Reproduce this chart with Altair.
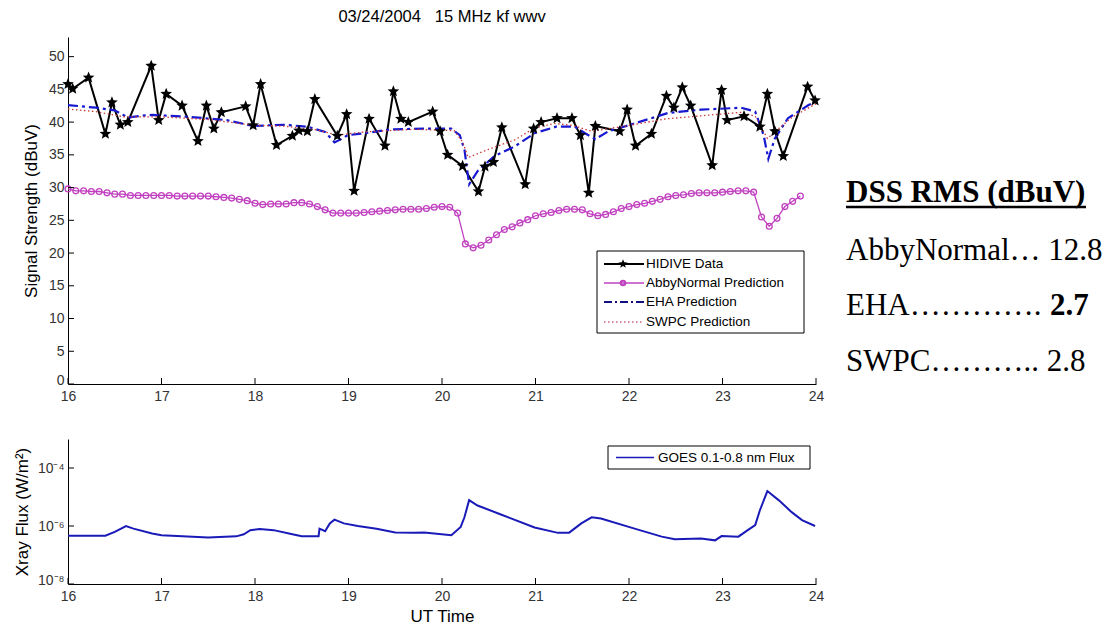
import altair as alt
import pandas as pd

# ---------------- data ----------------
hidive_t = [16.00, 16.05, 16.22, 16.40, 16.47, 16.56, 16.64, 16.89, 16.97, 17.05, 17.22, 17.39, 17.48,
            17.56, 17.64, 17.90, 17.98, 18.06, 18.23, 18.40, 18.47, 18.56, 18.64, 18.88, 18.98, 19.06,
            19.22, 19.39, 19.48, 19.56, 19.64, 19.90, 19.98, 20.06, 20.22, 20.39, 20.46, 20.55, 20.64,
            20.89, 20.98, 21.06, 21.23, 21.39, 21.48, 21.57, 21.64, 21.90, 21.98, 22.07, 22.24, 22.40,
            22.48, 22.57, 22.66, 22.89, 22.99, 23.05, 23.23, 23.40, 23.48, 23.56, 23.65, 23.91, 23.99]
hidive_v = [45.8, 45.1, 46.8, 38.2, 43.0, 39.6, 40.0, 48.6, 40.3, 44.3, 42.5, 37.1, 42.5,
            39.0, 41.5, 42.4, 39.5, 45.8, 36.5, 37.9, 38.7, 38.6, 43.5, 37.9, 41.2, 29.5,
            40.5, 36.4, 44.7, 40.5, 40.0, 41.6, 38.6, 35.0, 33.3, 29.4, 33.2, 33.9, 39.2,
            30.5, 39.0, 40.0, 40.6, 40.6, 38.0, 29.2, 39.4, 38.6, 41.9, 36.4, 38.2, 44.0,
            42.2, 45.3, 42.5, 33.4, 44.9, 40.3, 40.9, 39.3, 44.3, 38.6, 34.8, 45.4, 43.3]

abby_t = [16.000, 16.083, 16.167, 16.250, 16.333, 16.417, 16.500, 16.583, 16.667, 16.750, 16.833, 16.917,
          17.000, 17.083, 17.167, 17.250, 17.333, 17.417, 17.500, 17.583, 17.667, 17.750, 17.833, 17.917,
          18.000, 18.083, 18.167, 18.250, 18.333, 18.417, 18.500, 18.583, 18.667, 18.750, 18.833, 18.917,
          19.000, 19.083, 19.167, 19.250, 19.333, 19.417, 19.500, 19.583, 19.667, 19.750, 19.833, 19.917,
          20.000, 20.083, 20.167, 20.250, 20.333, 20.417, 20.500, 20.583, 20.667, 20.750, 20.833, 20.917,
          21.000, 21.083, 21.167, 21.250, 21.333, 21.417, 21.500, 21.583, 21.667, 21.750, 21.833, 21.917,
          22.000, 22.083, 22.167, 22.250, 22.333, 22.417, 22.500, 22.583, 22.667, 22.750, 22.833, 22.917,
          23.000, 23.083, 23.167, 23.250, 23.333, 23.417, 23.500, 23.583, 23.667, 23.750, 23.833]
abby_v = [29.8, 29.5, 29.5, 29.4, 29.4, 29.2, 29.0, 29.0, 28.8, 28.8, 28.8, 28.8,
          28.8, 28.8, 28.7, 28.7, 28.7, 28.7, 28.7, 28.6, 28.5, 28.4, 28.2, 28.0,
          27.6, 27.4, 27.5, 27.5, 27.5, 27.7, 27.7, 27.5, 27.1, 26.6, 26.1, 26.1,
          26.1, 26.1, 26.2, 26.3, 26.4, 26.5, 26.6, 26.7, 26.7, 26.7, 26.8, 27.0,
          27.1, 27.0, 26.1, 21.4, 20.8, 21.2, 22.0, 22.8, 23.6, 24.0, 24.6, 25.1,
          25.7, 26.0, 26.2, 26.5, 26.7, 26.7, 26.6, 26.0, 25.7, 25.9, 26.3, 26.8,
          27.1, 27.4, 27.6, 27.9, 28.2, 28.6, 28.8, 28.9, 29.1, 29.2, 29.2, 29.2,
          29.3, 29.4, 29.5, 29.5, 29.3, 25.5, 24.1, 25.3, 27.1, 27.9, 28.7]

eha_t = [16.00, 16.30, 16.50, 16.64, 16.80, 16.90, 17.30, 17.70, 17.98, 18.30, 18.56, 18.75, 18.85,
         18.92, 18.99, 19.17, 19.46, 19.81, 20.10, 20.19, 20.24, 20.29, 20.38, 20.56, 20.78, 20.99,
         21.22, 21.42, 21.53, 21.64, 21.78, 22.06, 22.42, 22.77, 23.20, 23.35, 23.44, 23.49, 23.56,
         23.70, 23.92, 24.00]
eha_v = [42.6, 42.2, 41.8, 40.7, 41.0, 41.1, 40.8, 40.3, 39.4, 39.6, 39.3, 38.5, 36.9,
         37.4, 38.0, 38.3, 38.9, 39.0, 39.0, 38.0, 35.8, 30.5, 32.5, 34.8, 36.3, 38.3,
         39.3, 39.3, 38.3, 37.4, 38.6, 39.8, 41.4, 41.9, 42.2, 41.6, 38.0, 34.4, 37.5,
         40.6, 42.6, 43.1]

swpc_t = [16.00, 16.30, 16.60, 17.00, 17.50, 18.00, 18.30, 18.67, 18.88, 19.17, 19.70, 20.13, 20.22,
          20.28, 20.49, 20.78, 20.99, 21.20, 21.40, 21.60, 22.00, 22.40, 22.80, 23.20, 23.35, 23.48,
          23.60, 23.75, 24.00]
swpc_v = [42.0, 41.6, 40.8, 40.8, 40.4, 39.5, 39.4, 38.8, 38.0, 38.5, 38.9, 38.7, 37.0,
          34.6, 35.8, 37.3, 39.1, 39.8, 39.5, 38.6, 39.5, 40.5, 41.0, 41.5, 40.9, 37.5,
          39.0, 40.8, 42.8]

goes_t = [16.00, 16.40, 16.50, 16.62, 16.70, 16.90, 17.00, 17.50, 17.80, 17.88, 17.95, 18.05, 18.20,
          18.40, 18.50, 18.68, 18.69, 18.75, 18.80, 18.85, 18.95, 19.10, 19.30, 19.50, 19.70, 19.81,
          20.10, 20.20, 20.24, 20.29, 20.38, 20.63, 20.99, 21.24, 21.36, 21.49, 21.60, 21.70, 22.06,
          22.35, 22.49, 22.77, 22.92, 22.99, 23.17, 23.27, 23.35, 23.40, 23.48, 23.60, 23.74, 23.85,
          23.99]
goes_v = [4.6e-7, 4.6e-7, 6.3e-7, 1.0e-6, 8.1e-7, 5.5e-7, 4.8e-7, 4.0e-7, 4.4e-7, 5.2e-7, 7.2e-7, 7.9e-7, 7.2e-7,
          5.2e-7, 4.4e-7, 4.4e-7, 8.1e-7, 6.6e-7, 1.23e-6, 1.66e-6, 1.23e-6, 1.0e-6, 8.1e-7, 6.0e-7, 5.8e-7, 6.0e-7,
          4.8e-7, 9.3e-7, 2.0e-6, 7.8e-6, 5.1e-6, 2.5e-6, 8.9e-7, 5.8e-7, 5.9e-7, 1.23e-6, 2.0e-6, 1.8e-6, 8.1e-7,
          4.3e-7, 3.5e-7, 3.7e-7, 3.2e-7, 4.5e-7, 4.3e-7, 7.2e-7, 1.07e-6, 3.5e-6, 1.6e-5, 7.8e-6, 3.0e-6, 1.6e-6,
          1.0e-6]

x_ticks = [16, 17, 18, 19, 20, 21, 22, 23, 24]
y_ticks = [0, 5, 10, 15, 20, 25, 30, 35, 40, 45, 50]
flux_ticks = [1e-8, 1e-6, 1e-4]

title_text = "03/24/2004\u00a0\u00a0\u00a015 MHz kf wwv"
legend_top = ["HIDIVE Data", "AbbyNormal Prediction", "EHA Prediction", "SWPC Prediction"]
legend_bottom = "GOES 0.1-0.8 nm Flux"
rms_header = "DSS RMS (dBuV)"
rms_rows = ["AbbyNormal\u2026 12.8", "EHA\u2026\u2026\u2026\u2026.", "SWPC\u2026\u2026\u2026.. 2.8"]
rms_bold = "2.7"

# ---------------- styling ----------------
W = 748
H1 = 347
H2 = 145
FONT = "Liberation Sans"
SERIF = "Liberation Serif"
BLACK = "#000000"
MAG = "#c040c0"
BLUE = "#1818d0"
RED = "#cc3a3a"
GBLUE = "#1a1ab8"
STAR = ("M0,-1 L0.26,-0.36 L0.951,-0.309 L0.42,0.137 L0.588,0.809 L0,0.44 "
        "L-0.588,0.809 L-0.42,0.137 L-0.951,-0.309 L-0.26,-0.36 Z")

df_hid = pd.DataFrame({"t": hidive_t, "v": hidive_v})
df_abby = pd.DataFrame({"t": abby_t, "v": abby_v})
df_eha = pd.DataFrame({"t": eha_t, "v": eha_v})
df_swpc = pd.DataFrame({"t": swpc_t, "v": swpc_v})
df_goes = pd.DataFrame({"t": goes_t, "f": goes_v})
df_xt = pd.DataFrame({"t": x_ticks})
df_yt = pd.DataFrame({"v": y_ticks})
df_ft = pd.DataFrame({"f": flux_ticks})
one = pd.DataFrame({"k": [0]})

xs = alt.Scale(domain=[16, 24], nice=False, zero=False)
ys = alt.Scale(domain=[0, 53], nice=False, zero=False)
fs = alt.Scale(type="log", domain=[1e-8, 1e-3], nice=False)

ax_common = dict(ticks=False, grid=False, domainColor=BLACK, domainWidth=1, labelFlush=False,
                 labelFont=FONT, labelFontSize=14, labelColor="#333333",
                 titleFont=FONT, titleFontSize=17, titleFontWeight="normal", titleColor=BLACK)

x_axis_top = alt.Axis(values=x_ticks, format="d", title=None, labelPadding=5, **ax_common)
x_axis_bot = alt.Axis(values=x_ticks, format="d", title="UT Time", titlePadding=5, labelPadding=5, **ax_common)
y_axis_top = alt.Axis(values=y_ticks, format="d", title="Signal Strength (dBuV)", titlePadding=8,
                      labelPadding=4,
                      labelBaseline={"condition": {"test": "datum.value == 0", "value": "alphabetic"},
                                     "value": "middle"},
                      **ax_common)
y_axis_bot = alt.Axis(values=flux_ticks, title="Xray Flux (W/m\u00b2)", titlePadding=6, labelPadding=4,
                      labelBaseline={"condition": {"test": "datum.value < 1e-7", "value": "alphabetic"},
                                     "value": "middle"},
                      labelExpr="datum.value < 1e-7 ? '10\u207b\u2078' : (datum.value < 1e-5 ? '10\u207b\u2076' : '10\u207b\u2074')",
                      **ax_common)

X = alt.X("t:Q", scale=xs, axis=x_axis_top)
Y = alt.Y("v:Q", scale=ys, axis=y_axis_top)

hid_line = alt.Chart(df_hid).mark_line(color=BLACK, strokeWidth=2).encode(x=X, y=Y)
hid_pts = alt.Chart(df_hid).mark_point(shape=STAR, filled=True, color=BLACK, size=150, opacity=1).encode(x=X, y=Y)
abby_line = alt.Chart(df_abby).mark_line(color=MAG, strokeWidth=1.3).encode(x=X, y=Y)
abby_pts = alt.Chart(df_abby).mark_point(shape="circle", filled=False, color=MAG, size=34,
                                          strokeWidth=1.3, opacity=1).encode(x=X, y=Y)
eha_line = alt.Chart(df_eha).mark_line(color=BLUE, strokeWidth=2.2, strokeDash=[10, 4, 3, 4]).encode(x=X, y=Y)
swpc_line = alt.Chart(df_swpc).mark_line(color=RED, strokeWidth=1.3, strokeDash=[1.5, 2.5]).encode(x=X, y=Y)

xt_top = alt.Chart(df_xt).mark_rule(color=BLACK, strokeWidth=1).encode(
    x=X, y=alt.value(H1), y2=alt.value(H1 - 6))
yt_top = alt.Chart(df_yt).mark_rule(color=BLACK, strokeWidth=1).encode(
    y=Y, x=alt.value(0), x2=alt.value(6))

# legend of top panel
lx0, lx1, ly0, ly1 = 529, 736, 214, 296
rows_y = [227, 246, 265, 285]
leg = [alt.Chart(one).mark_rect(fill="white", stroke=BLACK, strokeWidth=1).encode(
    x=alt.value(lx0), x2=alt.value(lx1), y=alt.value(ly0), y2=alt.value(ly1))]
leg_styles = [
    dict(color=BLACK, strokeWidth=2),
    dict(color=MAG, strokeWidth=1.3),
    dict(color="#101080", strokeWidth=2, strokeDash=[8, 3, 2, 3]),
    dict(color="#d06080", strokeWidth=1.3, strokeDash=[1.5, 2.5]),
]
for lab, yy, st in zip(legend_top, rows_y, leg_styles):
    leg.append(alt.Chart(one).mark_rule(**st).encode(x=alt.value(536), x2=alt.value(576), y=alt.value(yy)))
    leg.append(alt.Chart(one).mark_text(text=lab, align="left", baseline="middle", font=FONT,
                                         fontSize=13.5, color=BLACK).encode(x=alt.value(578), y=alt.value(yy)))
leg.append(alt.Chart(one).mark_point(shape=STAR, filled=True, color=BLACK, size=90, opacity=1).encode(
    x=alt.value(555), y=alt.value(rows_y[0])))
leg.append(alt.Chart(one).mark_point(shape="circle", filled=False, color=MAG, size=20, opacity=1).encode(
    x=alt.value(555), y=alt.value(rows_y[1])))

# RMS text block on the right
rx = 778
rms = [
    alt.Chart(one).mark_text(text=rms_header, align="left", baseline="alphabetic", font=SERIF,
                             fontSize=31, fontWeight="bold", color=BLACK).encode(x=alt.value(rx), y=alt.value(165)),
    alt.Chart(one).mark_rule(color=BLACK, strokeWidth=2.5).encode(
        x=alt.value(rx), x2=alt.value(rx + 240), y=alt.value(170)),
]
for txt, yy in zip(rms_rows, [223, 278, 334]):
    rms.append(alt.Chart(one).mark_text(text=txt, align="left", baseline="alphabetic", font=SERIF,
                                        fontSize=31, color=BLACK).encode(x=alt.value(rx), y=alt.value(yy)))
rms.append(alt.Chart(one).mark_text(text=rms_bold, align="left", baseline="alphabetic", font=SERIF,
                                    fontSize=31, fontWeight="bold", color=BLACK).encode(x=alt.value(982), y=alt.value(278)))

top = alt.layer(hid_line, abby_line, abby_pts, eha_line, swpc_line, hid_pts, xt_top, yt_top,
                *leg, *rms).properties(
    width=W, height=H1,
    title=alt.TitleParams(text=title_text, font=FONT, fontSize=16.5, fontWeight="normal",
                          color=BLACK, anchor="middle", offset=12))

# bottom panel
XB = alt.X("t:Q", scale=xs, axis=x_axis_bot)
YB = alt.Y("f:Q", scale=fs, axis=y_axis_bot)
goes_line = alt.Chart(df_goes).mark_line(color=GBLUE, strokeWidth=2).encode(x=XB, y=YB)
xt_bot = alt.Chart(df_xt).mark_rule(color=BLACK, strokeWidth=1).encode(
    x=XB, y=alt.value(H2), y2=alt.value(H2 - 6))
yt_bot = alt.Chart(df_ft).mark_rule(color=BLACK, strokeWidth=1).encode(
    y=YB, x=alt.value(0), x2=alt.value(6))
leg2 = [
    alt.Chart(one).mark_rect(fill="white", stroke=BLACK, strokeWidth=1).encode(
        x=alt.value(540), x2=alt.value(742), y=alt.value(7), y2=alt.value(30)),
    alt.Chart(one).mark_rule(color=GBLUE, strokeWidth=1.3).encode(
        x=alt.value(548), x2=alt.value(586), y=alt.value(18.5)),
    alt.Chart(one).mark_text(text=legend_bottom, align="left", baseline="middle", font=FONT,
                             fontSize=13.5, color=BLACK).encode(x=alt.value(590), y=alt.value(18.5)),
]
bottom = alt.layer(goes_line, xt_bot, yt_bot, *leg2).properties(width=W, height=H2)

chart = alt.vconcat(top, bottom, spacing=36).properties(
    padding={"left": 5, "top": 0, "right": 5, "bottom": 5}
).configure_view(stroke=None)

chart.save("out.html", embed_options={"renderer": "svg", "actions": False})
